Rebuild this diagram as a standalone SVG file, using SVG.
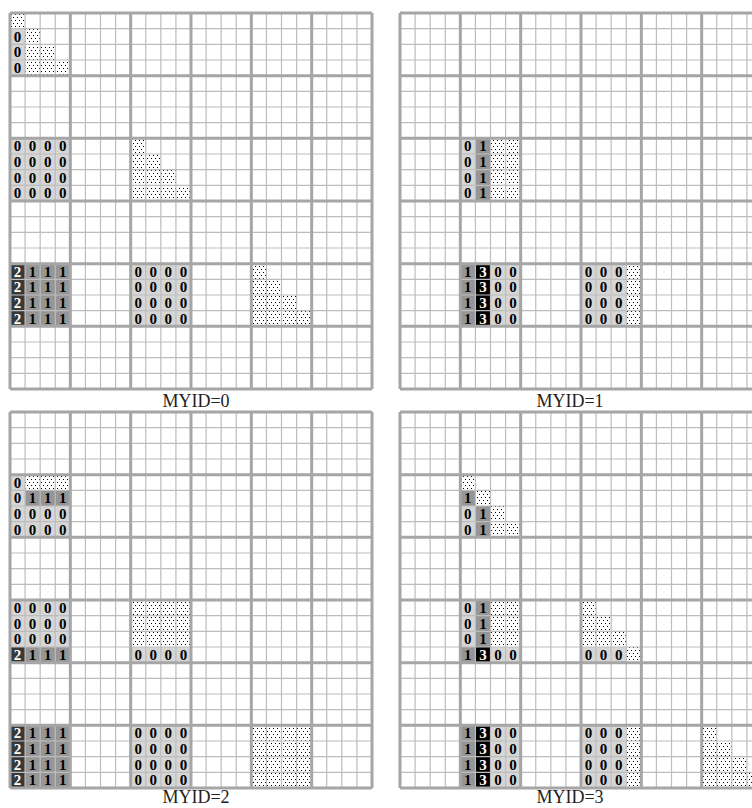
<svg xmlns="http://www.w3.org/2000/svg" xmlns:xlink="http://www.w3.org/1999/xlink" width="752" height="808" viewBox="0 0 752 808">
<style>
.z{fill:#d6d6d6}
.o{fill:#969696}
.t{fill:#383838}
.h{fill:#000}
.p{fill:url(#dots)}
.thin{fill:none;stroke:#bdbdbd;stroke-width:1.2}
.thick{fill:none;stroke:#a6a6a6;stroke-width:3}
.d{font-family:"Liberation Serif",serif;font-weight:bold;font-size:15px;text-anchor:middle;fill:#000}
.w{fill:#fff}
.lbl{font-family:"Liberation Serif",serif;font-size:18px;text-anchor:middle;fill:#222}
</style>
<defs>
<pattern id="dots" patternUnits="userSpaceOnUse" width="4" height="6">
<rect width="4" height="6" fill="#fff"/>
<rect x="1" y="1" width="1" height="1" fill="#000"/>
<rect x="3" y="4" width="1" height="1" fill="#000"/>
</pattern>
<g id="grid">
<path class="thin" d="M15.08 0V376M30.17 0V376M45.25 0V376M75.42 0V376M90.5 0V376M105.58 0V376M135.75 0V376M150.83 0V376M165.92 0V376M196.08 0V376M211.17 0V376M226.25 0V376M256.42 0V376M271.5 0V376M286.58 0V376M316.75 0V376M331.83 0V376M346.92 0V376M0 15.67H362M0 31.33H362M0 47H362M0 78.33H362M0 94H362M0 109.67H362M0 141H362M0 156.67H362M0 172.33H362M0 203.67H362M0 219.33H362M0 235H362M0 266.33H362M0 282H362M0 297.67H362M0 329H362M0 344.67H362M0 360.33H362"/>
<path class="thick" d="M0 0V376M60.33 0V376M120.67 0V376M181 0V376M241.33 0V376M301.67 0V376M362 0V376M0 0H362M0 62.67H362M0 125.33H362M0 188H362M0 250.67H362M0 313.33H362M0 376H362"/>
</g>
</defs>

<g id="panel0" transform="translate(10,13)">
<rect class="p" x="0" y="0" width="15.08" height="15.67"/>
<rect class="p" x="15.08" y="15.67" width="15.08" height="15.67"/>
<rect class="p" x="15.08" y="31.33" width="30.17" height="15.67"/>
<rect class="p" x="15.08" y="47" width="45.25" height="15.67"/>
<rect class="z" x="0" y="15.67" width="15.08" height="47"/>
<rect class="z" x="0" y="125.33" width="60.33" height="62.67"/>
<rect class="p" x="120.67" y="125.33" width="15.08" height="15.67"/>
<rect class="p" x="120.67" y="141" width="30.17" height="15.67"/>
<rect class="p" x="120.67" y="156.67" width="45.25" height="15.67"/>
<rect class="p" x="120.67" y="172.33" width="60.33" height="15.67"/>
<rect class="t" x="0" y="250.67" width="15.08" height="62.67"/>
<rect class="o" x="15.08" y="250.67" width="45.25" height="62.67"/>
<rect class="z" x="120.67" y="250.67" width="60.33" height="62.67"/>
<rect class="p" x="241.33" y="250.67" width="15.08" height="15.67"/>
<rect class="p" x="241.33" y="266.33" width="30.17" height="15.67"/>
<rect class="p" x="241.33" y="282" width="45.25" height="15.67"/>
<rect class="p" x="241.33" y="297.67" width="60.33" height="15.67"/>
<use xlink:href="#grid" href="#grid"/>
<text class="d" x="7.54" y="28.67">0</text>
<text class="d" x="7.54" y="44.33">0</text>
<text class="d" x="7.54" y="60">0</text>
<text class="d" x="7.54 22.62 37.71 52.79" y="138.33">0000</text>
<text class="d" x="7.54 22.62 37.71 52.79" y="154">0000</text>
<text class="d" x="7.54 22.62 37.71 52.79" y="169.67">0000</text>
<text class="d" x="7.54 22.62 37.71 52.79" y="185.33">0000</text>
<text class="d w" x="7.54" y="263.67">2</text>
<text class="d w" x="7.54" y="279.33">2</text>
<text class="d w" x="7.54" y="295">2</text>
<text class="d w" x="7.54" y="310.67">2</text>
<text class="d" x="22.62 37.71 52.79" y="263.67">111</text>
<text class="d" x="22.62 37.71 52.79" y="279.33">111</text>
<text class="d" x="22.62 37.71 52.79" y="295">111</text>
<text class="d" x="22.62 37.71 52.79" y="310.67">111</text>
<text class="d" x="128.21 143.29 158.37 173.46" y="263.67">0000</text>
<text class="d" x="128.21 143.29 158.37 173.46" y="279.33">0000</text>
<text class="d" x="128.21 143.29 158.37 173.46" y="295">0000</text>
<text class="d" x="128.21 143.29 158.37 173.46" y="310.67">0000</text>
</g>

<g id="panel1" transform="translate(400,13)">
<rect class="z" x="60.33" y="125.33" width="15.08" height="62.67"/>
<rect class="o" x="75.42" y="125.33" width="15.08" height="62.67"/>
<rect class="p" x="90.5" y="125.33" width="30.17" height="62.67"/>
<rect class="o" x="60.33" y="250.67" width="15.08" height="62.67"/>
<rect class="h" x="75.42" y="250.67" width="15.08" height="62.67"/>
<rect class="z" x="90.5" y="250.67" width="30.17" height="62.67"/>
<rect class="z" x="181" y="250.67" width="45.25" height="62.67"/>
<rect class="p" x="226.25" y="250.67" width="15.08" height="62.67"/>
<use xlink:href="#grid" href="#grid"/>
<text class="d" x="67.87 82.96" y="138.33">01</text>
<text class="d" x="67.87 82.96" y="154">01</text>
<text class="d" x="67.87 82.96" y="169.67">01</text>
<text class="d" x="67.87 82.96" y="185.33">01</text>
<text class="d" x="67.87" y="263.67">1</text>
<text class="d" x="67.87" y="279.33">1</text>
<text class="d" x="67.87" y="295">1</text>
<text class="d" x="67.87" y="310.67">1</text>
<text class="d w" x="82.96" y="263.67">3</text>
<text class="d w" x="82.96" y="279.33">3</text>
<text class="d w" x="82.96" y="295">3</text>
<text class="d w" x="82.96" y="310.67">3</text>
<text class="d" x="98.04 113.12" y="263.67">00</text>
<text class="d" x="98.04 113.12" y="279.33">00</text>
<text class="d" x="98.04 113.12" y="295">00</text>
<text class="d" x="98.04 113.12" y="310.67">00</text>
<text class="d" x="188.54 203.62 218.71" y="263.67">000</text>
<text class="d" x="188.54 203.62 218.71" y="279.33">000</text>
<text class="d" x="188.54 203.62 218.71" y="295">000</text>
<text class="d" x="188.54 203.62 218.71" y="310.67">000</text>
</g>

<g id="panel2" transform="translate(10,412)">
<rect class="z" x="0" y="62.67" width="15.08" height="62.67"/>
<rect class="p" x="15.08" y="62.67" width="45.25" height="15.67"/>
<rect class="o" x="15.08" y="78.33" width="45.25" height="15.67"/>
<rect class="z" x="15.08" y="94" width="45.25" height="31.33"/>
<rect class="z" x="0" y="188" width="60.33" height="47"/>
<rect class="t" x="0" y="235" width="15.08" height="15.67"/>
<rect class="o" x="15.08" y="235" width="45.25" height="15.67"/>
<rect class="p" x="120.67" y="188" width="60.33" height="47"/>
<rect class="z" x="120.67" y="235" width="60.33" height="15.67"/>
<rect class="t" x="0" y="313.33" width="15.08" height="62.67"/>
<rect class="o" x="15.08" y="313.33" width="45.25" height="62.67"/>
<rect class="z" x="120.67" y="313.33" width="60.33" height="62.67"/>
<rect class="p" x="241.33" y="313.33" width="60.33" height="62.67"/>
<use xlink:href="#grid" href="#grid"/>
<text class="d" x="7.54" y="75.67">0</text>
<text class="d" x="7.54 22.62 37.71 52.79" y="91.33">0111</text>
<text class="d" x="7.54 22.62 37.71 52.79" y="107">0000</text>
<text class="d" x="7.54 22.62 37.71 52.79" y="122.67">0000</text>
<text class="d" x="7.54 22.62 37.71 52.79" y="201">0000</text>
<text class="d" x="7.54 22.62 37.71 52.79" y="216.67">0000</text>
<text class="d" x="7.54 22.62 37.71 52.79" y="232.33">0000</text>
<text class="d w" x="7.54" y="248">2</text>
<text class="d" x="22.62 37.71 52.79" y="248">111</text>
<text class="d" x="128.21 143.29 158.37 173.46" y="248">0000</text>
<text class="d w" x="7.54" y="326.33">2</text>
<text class="d w" x="7.54" y="342">2</text>
<text class="d w" x="7.54" y="357.67">2</text>
<text class="d w" x="7.54" y="373.33">2</text>
<text class="d" x="22.62 37.71 52.79" y="326.33">111</text>
<text class="d" x="22.62 37.71 52.79" y="342">111</text>
<text class="d" x="22.62 37.71 52.79" y="357.67">111</text>
<text class="d" x="22.62 37.71 52.79" y="373.33">111</text>
<text class="d" x="128.21 143.29 158.37 173.46" y="326.33">0000</text>
<text class="d" x="128.21 143.29 158.37 173.46" y="342">0000</text>
<text class="d" x="128.21 143.29 158.37 173.46" y="357.67">0000</text>
<text class="d" x="128.21 143.29 158.37 173.46" y="373.33">0000</text>
</g>

<g id="panel3" transform="translate(400,412)">
<rect class="p" x="60.33" y="62.67" width="15.08" height="15.67"/>
<rect class="o" x="60.33" y="78.33" width="15.08" height="15.67"/>
<rect class="p" x="75.42" y="78.33" width="15.08" height="15.67"/>
<rect class="z" x="60.33" y="94" width="15.08" height="31.33"/>
<rect class="o" x="75.42" y="94" width="15.08" height="31.33"/>
<rect class="p" x="90.5" y="94" width="15.08" height="15.67"/>
<rect class="p" x="90.5" y="109.67" width="30.17" height="15.67"/>
<rect class="z" x="60.33" y="188" width="15.08" height="47"/>
<rect class="o" x="75.42" y="188" width="15.08" height="47"/>
<rect class="p" x="90.5" y="188" width="30.17" height="47"/>
<rect class="o" x="60.33" y="235" width="15.08" height="15.67"/>
<rect class="h" x="75.42" y="235" width="15.08" height="15.67"/>
<rect class="z" x="90.5" y="235" width="30.17" height="15.67"/>
<rect class="p" x="181" y="188" width="15.08" height="15.67"/>
<rect class="p" x="181" y="203.67" width="30.17" height="15.67"/>
<rect class="p" x="181" y="219.33" width="45.25" height="15.67"/>
<rect class="z" x="181" y="235" width="45.25" height="15.67"/>
<rect class="p" x="226.25" y="235" width="15.08" height="15.67"/>
<rect class="o" x="60.33" y="313.33" width="15.08" height="62.67"/>
<rect class="h" x="75.42" y="313.33" width="15.08" height="62.67"/>
<rect class="z" x="90.5" y="313.33" width="30.17" height="62.67"/>
<rect class="z" x="181" y="313.33" width="45.25" height="62.67"/>
<rect class="p" x="226.25" y="313.33" width="15.08" height="62.67"/>
<rect class="p" x="301.67" y="313.33" width="15.08" height="15.67"/>
<rect class="p" x="301.67" y="329" width="30.17" height="15.67"/>
<rect class="p" x="301.67" y="344.67" width="45.25" height="15.67"/>
<rect class="p" x="301.67" y="360.33" width="60.33" height="15.67"/>
<use xlink:href="#grid" href="#grid"/>
<text class="d" x="67.87" y="91.33">1</text>
<text class="d" x="67.87 82.96" y="107">01</text>
<text class="d" x="67.87 82.96" y="122.67">01</text>
<text class="d" x="67.87 82.96" y="201">01</text>
<text class="d" x="67.87 82.96" y="216.67">01</text>
<text class="d" x="67.87 82.96" y="232.33">01</text>
<text class="d" x="67.87" y="248">1</text>
<text class="d w" x="82.96" y="248">3</text>
<text class="d" x="98.04 113.12" y="248">00</text>
<text class="d" x="188.54 203.62 218.71" y="248">000</text>
<text class="d" x="67.87" y="326.33">1</text>
<text class="d" x="67.87" y="342">1</text>
<text class="d" x="67.87" y="357.67">1</text>
<text class="d" x="67.87" y="373.33">1</text>
<text class="d w" x="82.96" y="326.33">3</text>
<text class="d w" x="82.96" y="342">3</text>
<text class="d w" x="82.96" y="357.67">3</text>
<text class="d w" x="82.96" y="373.33">3</text>
<text class="d" x="98.04 113.12" y="326.33">00</text>
<text class="d" x="98.04 113.12" y="342">00</text>
<text class="d" x="98.04 113.12" y="357.67">00</text>
<text class="d" x="98.04 113.12" y="373.33">00</text>
<text class="d" x="188.54 203.62 218.71" y="326.33">000</text>
<text class="d" x="188.54 203.62 218.71" y="342">000</text>
<text class="d" x="188.54 203.62 218.71" y="357.67">000</text>
<text class="d" x="188.54 203.62 218.71" y="373.33">000</text>
</g>

<g id="labels">
<text class="lbl" x="196" y="407">MYID=0</text>
<text class="lbl" x="570" y="407">MYID=1</text>
<text class="lbl" x="196" y="803">MYID=2</text>
<text class="lbl" x="570" y="803">MYID=3</text>
</g>
</svg>
